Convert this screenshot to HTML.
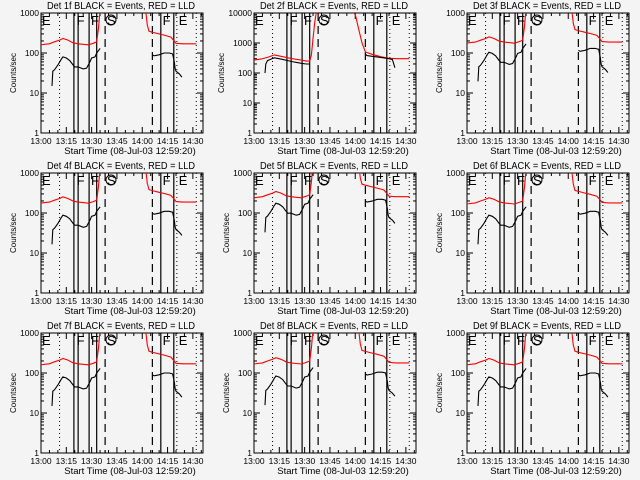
<!DOCTYPE html>
<html><head><meta charset="utf-8"><style>
html,body{margin:0;padding:0;background:#f4f4f4;}
svg{display:block;font-family:"Liberation Sans",sans-serif;}
</style></head><body>
<svg id="c" width="640" height="480"></svg>
<script>
// ---- data (minutes after 13:00) ----
const detNames=["1f","2f","3f","4f","5f","6f","7f","8f","9f"];
const redScale=[1,1,1.1,1.1,1.5,1.05,1,1.05,1];
const blackScale=[1,1,1.3,1.1,2.2,1.1,1,1.05,1];
const redT1=[0,2,5,8,11,13,16,19,22,25,28,31,33,34,35];
const redV1=[160,165,170,190,210,230,210,180,170,165,160,175,190,400,1200];
const redT2=[62,63,64,66,70,73,77,79,80,84,88,92];
const redV2=[1200,500,350,330,300,280,250,200,175,170,170,170];
const blkT1=[6.5,7,8,10,12,13,15,17,19,20,22,25,27,29,30,32,33,35];
const blkV1=[15,35,38,50,70,80,75,65,50,45,45,40,42,60,75,80,100,130];
const blkT2=[66,67,70,73,76,78,79,79.5,80,82,83.5];
const blkV2=[90,85,90,100,100,95,60,40,35,30,25];
// detector 2f (different scale)
const d2RedT=[0,4,8,12,16,20,24,28,31,33,34,35,36,37,58,60,62,64,66,70,75,80,85,92];
const d2RedV=[270,290,330,400,360,320,290,270,250,250,400,1500,5000,11000,11000,9000,3000,1000,500,420,350,310,300,300];
const d2BlkT=[6.5,7,8,12,16,20,24,28,31,33];
const d2BlkV=[100,200,260,320,290,260,230,210,200,200];
const d2BlkT2=[66,67,70,75,80,82,83.5];
const d2BlkV2=[420,380,360,330,300,280,150];
const xTicks=[0,15,30,45,60,75,90];
const xLabels=["13:00","13:15","13:30","13:45","14:00","14:15","14:30"];
const vSolid=[19.5,22,28.5,33,71,78.7];
const vDotted=[11,80.5,92];
const vDashed=[38,66];
const letters=[[0,"E"],[20.5,"F"],[29,"F"],[38.5,"S"],[71.5,"F"],[81,"E"]];

const NS="http://www.w3.org/2000/svg";
const svg=document.getElementById('c');
function mk(tag,attrs,parent){const e=document.createElementNS(NS,tag);for(const k in attrs)e.setAttribute(k,attrs[k]);(parent||svg).appendChild(e);return e;}
const PW=162,PH=120,XMIN=0,XMAX=96;

for(let p=0;p<9;p++){
  const col=p%3,row=Math.floor(p/3);
  const x0=41+213*col,y0=13+160*row;
  const decades=(p===1)?4:3;
  const g=mk('g',{});
  
  
  const xs=t=>x0+(t-XMIN)/(XMAX-XMIN)*PW;
  const ys=v=>y0+PH-Math.log10(v)/decades*PH;
  const clipId='cl'+p;
  const cp=mk('clipPath',{id:clipId},g);mk('rect',{x:x0,y:y0,width:PW,height:PH},cp);
  // title
  const tt=mk('text',{x:x0+6,y:y0-4,'font-size':'10',fill:'#000',textLength:148,lengthAdjust:'spacingAndGlyphs'},g);
  tt.textContent='Det '+detNames[p]+' BLACK = Events, RED = LLD';
  
  
  // frame
  const fr=mk('rect',{x:x0,y:y0,width:PW,height:PH,fill:'none',stroke:'#000','stroke-width':1},g);
  
  
  // y ticks
  for(let d=0;d<=decades;d++){
    const y=ys(Math.pow(10,d));
    mk('line',{x1:x0,x2:x0+6,y1:y,y2:y,stroke:'#000'},g);
    mk('line',{x1:x0+PW-6,x2:x0+PW,y1:y,y2:y,stroke:'#000'},g);
    const lb=mk('text',{x:x0-2,y:y+3,'font-size':'8.5','text-anchor':'end'},g);
    lb.textContent=String(Math.pow(10,d));
    
    
    if(d<decades)for(let m=2;m<10;m++){const ym=ys(m*Math.pow(10,d));
      mk('line',{x1:x0,x2:x0+3,y1:ym,y2:ym,stroke:'#000'},g);
      mk('line',{x1:x0+PW-3,x2:x0+PW,y1:ym,y2:ym,stroke:'#000'},g);}
  }
  // x ticks
  for(let t=0;t<=95;t+=5){const x=xs(t),L=(t%15===0)?6:3;
    mk('line',{x1:x,x2:x,y1:y0+PH,y2:y0+PH-L,stroke:'#000'},g);
    mk('line',{x1:x,x2:x,y1:y0,y2:y0+L,stroke:'#000'},g);}
  xTicks.forEach((t,i)=>{const lb=mk('text',{x:xs(t),y:y0+PH+11,'font-size':'8.5','text-anchor':'middle'},g);
    lb.textContent=xLabels[i];
    
    });
  const xt=mk('text',{x:x0+PW/2+8,y:y0+PH+21,'font-size':'9.5','text-anchor':'middle'},g);
  xt.textContent='Start Time (08-Jul-03 12:59:20)';
  
  
  const yx=(p===1)?x0-30:x0-25;
  const yt=mk('text',{x:yx,y:y0+PH/2,'font-size':'8','text-anchor':'middle',transform:'rotate(-90 '+yx+' '+(y0+PH/2)+')'},g);
  yt.textContent='Counts/sec';
  
  
  // vertical markers
  const inner=mk('g',{'clip-path':'url(#'+clipId+')'},g);
  vSolid.forEach(t=>mk('line',{x1:xs(t),x2:xs(t),y1:y0,y2:y0+PH,stroke:'#000','stroke-width':1.2},inner));
  vDotted.forEach(t=>mk('line',{x1:xs(t),x2:xs(t),y1:y0,y2:y0+PH,stroke:'#000','stroke-dasharray':'1,3'},inner));
  vDashed.forEach(t=>mk('line',{x1:xs(t),x2:xs(t),y1:y0,y2:y0+PH,stroke:'#000','stroke-dasharray':'8,5','stroke-width':1.2},inner));
  letters.forEach(([t,s])=>{const lt=mk('text',{x:xs(t)+1,y:y0+12,'font-size':'13',fill:'#000'},inner);
    lt.textContent=s;
    
    
    if(s==="S")mk('circle',{cx:xs(t)+5,cy:y0+7,r:5,fill:'none',stroke:'#000'},inner);});
  // series
  function line(T,V,sc,color,name){
    const pts=T.map((t,i)=>xs(t).toFixed(1)+','+ys(Math.max(0.5,V[i]*sc)).toFixed(1)).join(' ');
    const pl=mk('polyline',{points:pts,fill:'none',stroke:color,'stroke-width':1.1},inner);
    
    
  }
  if(p===1){
    line(d2RedT,d2RedV,1,'#ff0000','lld-rate-line');
    line(d2BlkT,d2BlkV,1,'#000','event-rate-line');
    line(d2BlkT2,d2BlkV2,1,'#000','event-rate-line-2');
  }else{
    line(redT1,redV1,redScale[p],'#ff0000','lld-rate-line');
    line(redT2,redV2,redScale[p],'#ff0000','lld-rate-line-2');
    line(blkT1,blkV1,blackScale[p],'#000','event-rate-line');
    line(blkT2,blkV2,blackScale[p],'#000','event-rate-line-2');
  }
}
</script>
</body></html>
